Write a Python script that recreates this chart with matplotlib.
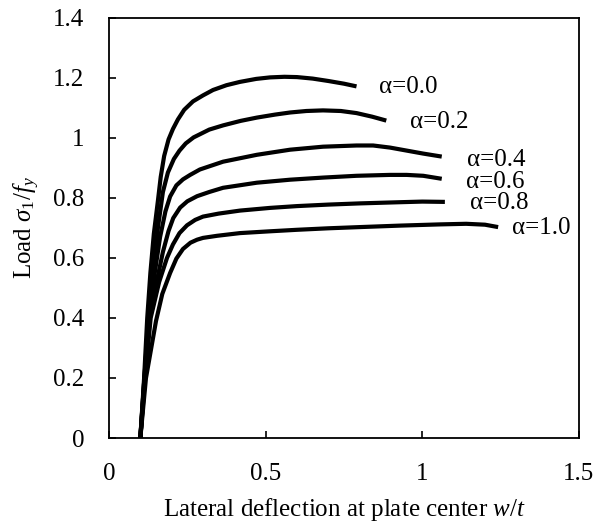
import matplotlib
matplotlib.use("Agg")
from matplotlib import pyplot as plt

plt.rcParams['font.family'] = ['Liberation Serif', 'DejaVu Serif']
plt.rcParams['mathtext.fontset'] = 'custom'
plt.rcParams['mathtext.rm'] = 'Liberation Serif'
plt.rcParams['mathtext.it'] = 'Liberation Serif:italic'
plt.rcParams['font.size'] = 18

# load-deflection curves
x_a00 = [0.100, 0.112, 0.122, 0.132, 0.143, 0.156, 0.165, 0.176, 0.190, 0.204, 0.220, 0.240, 0.268, 0.300,
         0.332, 0.375, 0.418, 0.470, 0.514, 0.560, 0.600, 0.650, 0.700, 0.750, 0.790]
y_a00 = [0.00, 0.20, 0.40, 0.55, 0.68, 0.79, 0.87, 0.94, 0.995, 1.03, 1.062, 1.094, 1.122, 1.142,
         1.160, 1.176, 1.187, 1.197, 1.202, 1.204, 1.203, 1.198, 1.190, 1.181, 1.172]

x_a02 = [0.100, 0.113, 0.126, 0.141, 0.156, 0.172, 0.188, 0.207, 0.225, 0.245, 0.270, 0.320, 0.364,
         0.420, 0.472, 0.530, 0.578, 0.630, 0.683, 0.740, 0.790, 0.840, 0.885]
y_a02 = [0.00, 0.20, 0.40, 0.55, 0.70, 0.82, 0.885, 0.93, 0.958, 0.982, 1.002, 1.028, 1.042,
         1.057, 1.068, 1.078, 1.085, 1.090, 1.092, 1.090, 1.083, 1.071, 1.058]

x_a04 = [0.100, 0.113, 0.128, 0.146, 0.163, 0.180, 0.195, 0.215, 0.236, 0.259, 0.290, 0.364,
         0.472, 0.578, 0.683, 0.790, 0.843, 0.897, 0.950, 1.003, 1.062]
y_a04 = [0.00, 0.20, 0.40, 0.55, 0.67, 0.755, 0.805, 0.842, 0.862, 0.877, 0.895, 0.921,
         0.944, 0.961, 0.971, 0.975, 0.975, 0.968, 0.958, 0.948, 0.938]

x_a06 = [0.100, 0.114, 0.130, 0.152, 0.172, 0.190, 0.205, 0.227, 0.250, 0.281, 0.320, 0.364,
         0.472, 0.578, 0.683, 0.790, 0.897, 0.950, 1.003, 1.062]
y_a06 = [0.00, 0.20, 0.40, 0.52, 0.62, 0.69, 0.733, 0.768, 0.789, 0.806, 0.820, 0.834,
         0.851, 0.861, 0.868, 0.874, 0.877, 0.877, 0.874, 0.864]

x_a08 = [0.100, 0.115, 0.133, 0.160, 0.185, 0.204, 0.225, 0.249, 0.275, 0.300, 0.350, 0.418,
         0.514, 0.600, 0.700, 0.800, 0.930, 1.000, 1.072]
y_a08 = [0.00, 0.20, 0.40, 0.52, 0.60, 0.645, 0.683, 0.709, 0.727, 0.738, 0.748, 0.758,
         0.767, 0.773, 0.778, 0.782, 0.786, 0.788, 0.787]

x_a10 = [0.100, 0.118, 0.150, 0.170, 0.195, 0.215, 0.236, 0.260, 0.281, 0.300, 0.345, 0.418,
         0.514, 0.600, 0.700, 0.800, 0.930, 1.056, 1.140, 1.200, 1.242]
y_a10 = [0.00, 0.20, 0.39, 0.48, 0.55, 0.598, 0.630, 0.651, 0.661, 0.667, 0.674, 0.683,
         0.689, 0.694, 0.699, 0.703, 0.708, 0.712, 0.714, 0.711, 0.703]

labels = ['α=0.0', 'α=0.2', 'α=0.4', 'α=0.6', 'α=0.8', 'α=1.0']
label_x = [0.862, 0.961, 1.143, 1.140, 1.152, 1.286]
label_y = [1.169, 1.052, 0.928, 0.854, 0.784, 0.700]

curves = [(x_a00, y_a00), (x_a02, y_a02), (x_a04, y_a04),
          (x_a06, y_a06), (x_a08, y_a08), (x_a10, y_a10)]

fig = plt.figure(figsize=(5.97, 5.26), dpi=100)
ax = fig.add_axes([0.1826, 0.1673, 0.7872, 0.7985])

for (xs, ys) in curves:
    ax.plot(xs, ys, color='black', lw=3.0, solid_joinstyle='round', solid_capstyle='butt')

for lab, lx, ly in zip(labels, label_x, label_y):
    ax.text(lx, ly, lab, ha='left', va='center', fontsize=18)

ax.set_xlim(0, 1.5)
ax.set_ylim(0, 1.4)
ax.set_xticks([0, 0.5, 1, 1.5])
ax.set_xticklabels(['0', '0.5', '1', '1.5'])
ax.set_yticks([0, 0.2, 0.4, 0.6, 0.8, 1.0, 1.2, 1.4])
ax.set_yticklabels(['0', '0.2', '0.4', '0.6', '0.8', '1', '1.2', '1.4'])
ax.tick_params(axis='x', direction='in', length=5, width=1.2, pad=18)
ax.tick_params(axis='y', direction='in', length=5, width=1.2, pad=18)
for s in ax.spines.values():
    s.set_linewidth(1.3)

ax.set_xlabel(r'Lateral deflection at plate center $w/t$', labelpad=8)
ax.set_ylabel(r'Load $\sigma_{\mathit{1}}/f_{y}$', labelpad=8)

fig.savefig('out.png', dpi=100)
